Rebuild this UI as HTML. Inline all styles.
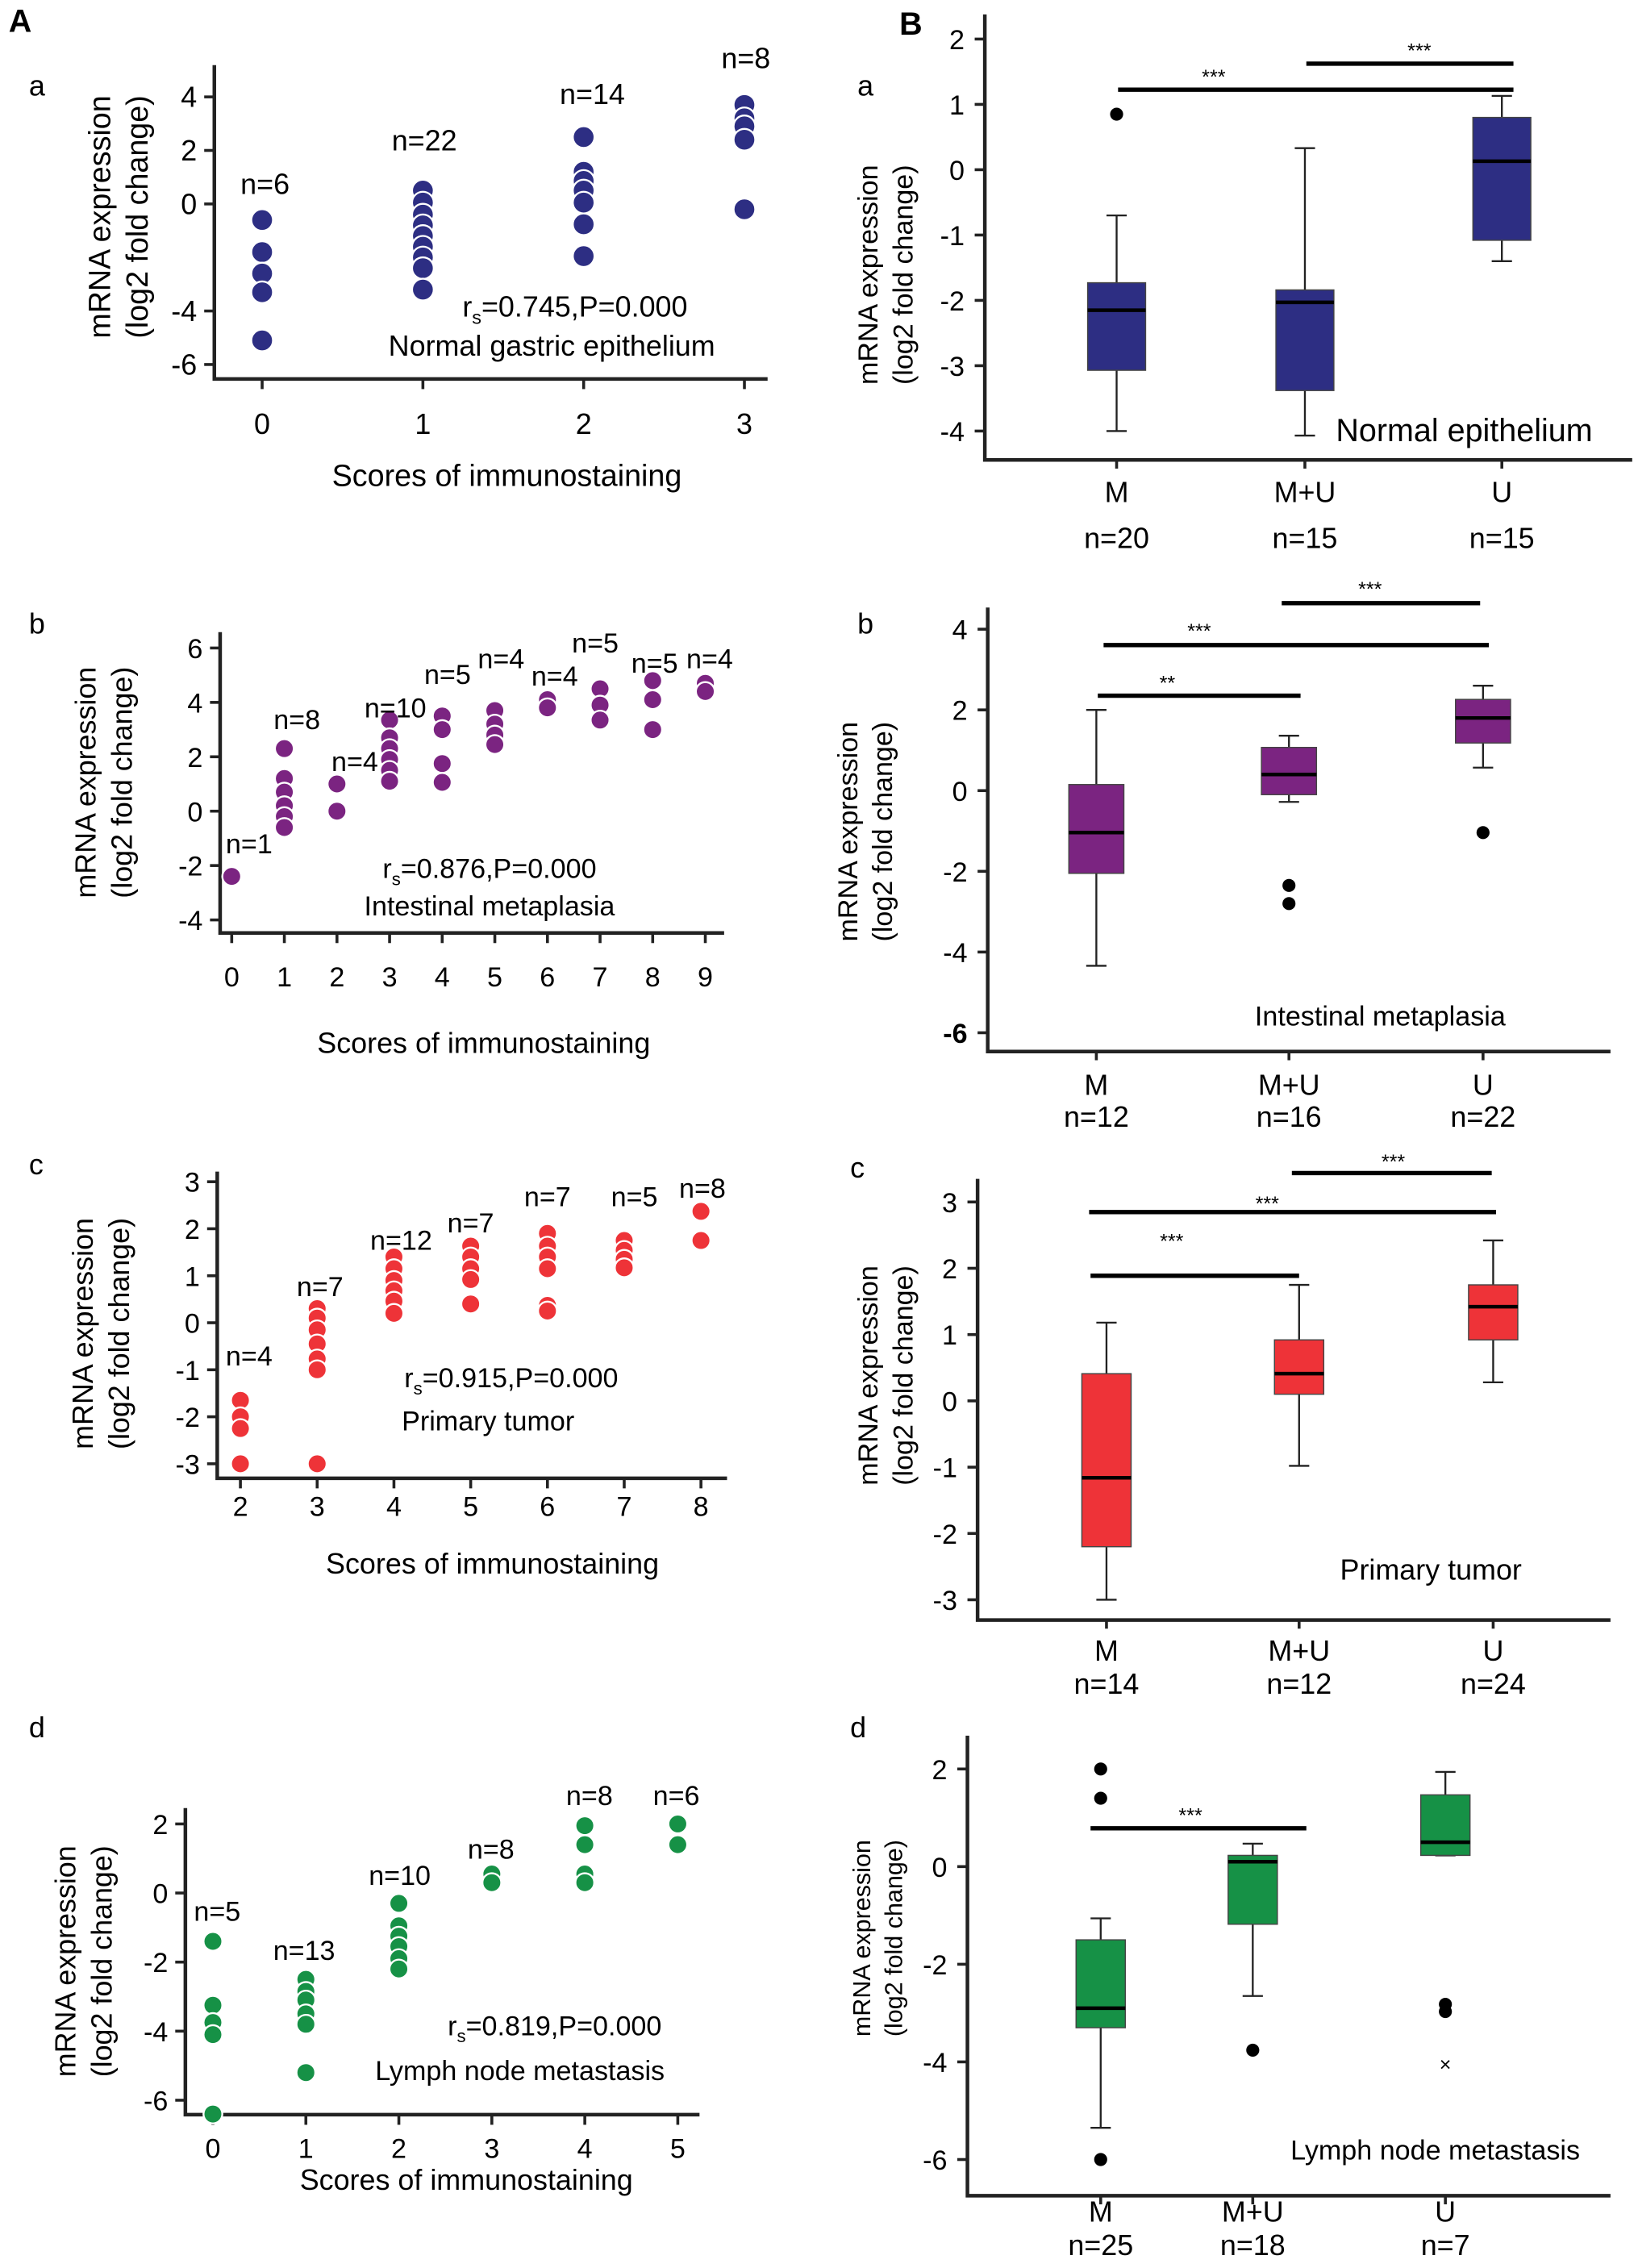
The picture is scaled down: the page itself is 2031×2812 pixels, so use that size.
<!DOCTYPE html>
<html><head><meta charset="utf-8"><title>mRNA expression figure</title>
<style>
html,body{margin:0;padding:0;background:#fff;}
svg{display:block;font-family:"Liberation Sans",Arial,sans-serif;}
</style></head>
<body>
<svg id="fig" xmlns="http://www.w3.org/2000/svg" width="2031" height="2812" viewBox="0 0 1131 1568" preserveAspectRatio="none">
<text x="6" y="22" font-size="22" font-weight="bold">A</text>
<text x="621" y="24" font-size="22" font-weight="bold">B</text>
</svg>
<script>
// ---------- Scatter panel data (A) ----------
const sAaCats=[0,1,2,3];
const sAaVals=[[-0.6,-1.8,-2.6,-3.3,-5.1],[0.5,0.05,-0.4,-0.8,-1.2,-1.6,-2,-2.4,-3.2],[2.5,1.2,0.86,0.5,0.05,-0.76,-1.95],[3.7,3.2,2.9,2.4,-0.2]];
const sAaN=["n=6","n=22","n=14","n=8"];
const sAaTicks=[4,2,0,-4,-6];

const sAbCats=[0,1,2,3,4,5,6,7,8,9];
const sAbVals=[[-2.4],[2.3,1.2,0.7,0.2,-0.2,-0.6],[1,0],[3.35,2.7,2.3,1.9,1.5,1.1],[3.5,3,1.75,1.06],[3.7,3.2,2.8,2.45],[4.1,3.8],[4.5,3.9,3.35],[4.8,4.1,3],[4.7,4.4]];
const sAbN=["n=1","n=8","n=4","n=10","n=5","n=4","n=4","n=5","n=5","n=4"];
const sAbTicks=[6,4,2,0,-2,-4];

const sAcCats=[2,3,4,5,6,7,8];
const sAcVals=[[-1.65,-2,-2.25,-3],[0.3,0.1,-0.15,-0.45,-0.77,-1,-3],[1.4,1.15,0.9,0.68,0.46,0.2],[1.63,1.4,1.15,0.92,0.4],[1.9,1.63,1.4,1.15,0.37,0.25],[1.75,1.54,1.35,1.17],[2.37,1.75]];
const sAcN=["n=4","n=7","n=12","n=7","n=7","n=5","n=8"];
const sAcTicks=[3,2,1,0,-1,-2,-3];

const sAdCats=[0,1,2,3,4,5];
const sAdVals=[[-1.4,-3.25,-3.75,-4.1,-6.4],[-2.5,-2.85,-3.1,-3.5,-3.8,-5.2],[-0.3,-0.95,-1.25,-1.55,-1.9,-2.2],[0.55,0.3],[1.95,1.4,0.55,0.3],[2,1.4]];
const sAdN=["n=5","n=13","n=10","n=8","n=8","n=6"];
const sAdTicks=[2,0,-2,-4,-6];

// ---------- Box panel data (B) ----------
const bGroups=["M","M+U","U"];
const bBaN=["n=20","n=15","n=15"];
const bBaQ1=[-3.07,-3.38,-1.08], bBaQ3=[-1.73,-1.84,0.8], bBaMed=[-2.15,-2.03,0.13], bBaLo=[-4,-4.07,-1.4], bBaHi=[-0.7,0.33,1.13];
const bBaOut=[[0.85],[],[]];
const bBaTicks=[2,1,0,-1,-2,-3,-4];

const bBbN=["n=12","n=16","n=22"];
const bBbQ1=[-2.05,-0.1,1.18], bBbQ3=[0.15,1.07,2.26], bBbMed=[-1.04,0.4,1.8], bBbLo=[-4.34,-0.28,0.57], bBbHi=[2,1.36,2.6];
const bBbOut=[[],[-2.35,-2.8],[-1.04]];
const bBbTicks=[4,2,0,-2,-4,-6];

const bBcN=["n=14","n=12","n=24"];
const bBcQ1=[-2.2,0.1,0.92], bBcQ3=[0.41,0.92,1.75], bBcMed=[-1.16,0.41,1.42], bBcLo=[-3,-0.98,0.28], bBcHi=[1.18,1.75,2.42];
const bBcOut=[[],[],[]];
const bBcTicks=[3,2,1,0,-1,-2,-3];

const bBdN=["n=25","n=18","n=7"];
const bBdQ1=[-3.3,-1.18,0.23], bBdQ3=[-1.5,0.23,1.47], bBdMed=[-2.9,0.1,0.5], bBdLo=[-5.35,-2.65,0.23], bBdHi=[-1.06,0.47,1.94];
const bBdOut=[[2,1.4,-6],[-3.76],[-2.82,-2.97]];
const bBdTicks=[2,0,-2,-4,-6];

const NS="http://www.w3.org/2000/svg";
const svg=document.getElementById('fig');
function mk(tag,attrs,parent){const e=document.createElementNS(NS,tag);for(const k in attrs)e.setAttribute(k,attrs[k]);(parent||svg).appendChild(e);return e;}
function txt(x,y,s,size,anchor,parent,extra){const t=mk('text',Object.assign({x:x,y:y,'font-size':size,'text-anchor':anchor||'middle'},extra||{}),parent);t.textContent=s;return t;}
function linY(v0,y0,v1,y1){return v=>y0+(v-v0)*(y1-y0)/(v1-v0);}
function linX(c0,x0,c1,x1){return c=>x0+(c-c0)*(x1-x0)/(c1-c0);}

function scatter(p){
  const g=mk('g',{});
  
  
  txt(p.letter[0],p.letter[1],p.letterText,20,'start',g);
  const ax=mk('path',{d:`M${p.ax} ${p.top} V${p.bottom} H${p.right}`,stroke:'#222',fill:'none','stroke-width':2.5},g);
  
  
  p.ticks.forEach(v=>{const y=p.y(v);mk('line',{x1:p.ax-7,x2:p.ax,y1:y,y2:y,stroke:'#222','stroke-width':2},g);
    const t=txt(p.ax-12,y+7,String(v),p.fs,'end',g);
    
    });
  p.cats.forEach((c,i)=>{const x=p.x(c);mk('line',{x1:x,x2:x,y1:p.bottom,y2:p.bottom+7,stroke:'#222','stroke-width':2},g);
    const t=txt(x,p.xlabY,String(c),p.fs,'middle',g);
    
    
    p.vals[i].forEach(v=>{const d=mk('circle',{cx:x,cy:p.y(v),r:p.r,fill:p.color,stroke:'#fff','stroke-width':1.3},g);
      
      });
    const n=txt(p.nPos[i][0],p.nPos[i][1],p.n[i],p.fs,'middle',g);
    
    });
  const xt=txt(p.xt[0],p.xt[1],'Scores of immunostaining',p.fs+1,'middle',g);
  
  
  const yt=mk('text',{transform:`translate(${p.yt[0]},${p.yt[1]}) rotate(-90)`,'font-size':p.fs+1,'text-anchor':'middle'},g);
  
  
  const s1=mk('tspan',{x:0,y:0},yt);s1.textContent='mRNA expression';
  const s2=mk('tspan',{x:0,y:p.fs+6},yt);s2.textContent='(log2 fold change)';
  const r=mk('text',{x:p.rs[0],y:p.rs[1],'font-size':p.fs,'text-anchor':'middle'},g);
  
  
  const a=mk('tspan',{},r);a.textContent='r';
  const b=mk('tspan',{'font-size':p.fs*0.65,dy:5},r);b.textContent='s';
  const c=mk('tspan',{dy:-5},r);c.textContent=p.rsText;
  const l=txt(p.lab[0],p.lab[1],p.labText,p.fs,'middle',g);
  
  
}

function boxplot(p){
  const g=mk('g',{});
  
  
  txt(p.letter[0],p.letter[1],p.letterText,20,'start',g);
  const ax=mk('path',{d:`M${p.ax} ${p.top} V${p.bottom} H${p.right}`,stroke:'#222',fill:'none','stroke-width':2.5},g);
  
  
  p.ticks.forEach(v=>{const y=p.y(v);mk('line',{x1:p.ax-7,x2:p.ax,y1:y,y2:y,stroke:'#222','stroke-width':2},g);
    const t=txt(p.ax-14,y+7,String(v),p.fs,'end',g,(p.boldTick===v)?{'font-weight':'bold'}:{});
    
    });
  bGroups.forEach((gname,i)=>{
    const x=p.cx[i],w=p.w;
    mk('line',{x1:x,x2:x,y1:p.y(p.hi[i]),y2:p.y(p.lo[i]),stroke:'#222','stroke-width':1.3},g);
    [p.hi[i],p.lo[i]].forEach(v=>mk('line',{x1:x-7,x2:x+7,y1:p.y(v),y2:p.y(v),stroke:'#222','stroke-width':1.3},g));
    const bx=mk('rect',{x:x-w/2,y:p.y(p.q3[i]),width:w,height:p.y(p.q1[i])-p.y(p.q3[i]),fill:p.color,stroke:'#444','stroke-width':0.8},g);
    
    
    mk('line',{x1:x-w/2,x2:x+w/2,y1:p.y(p.med[i]),y2:p.y(p.med[i]),stroke:'#000','stroke-width':2.5},g);
    p.out[i].forEach(v=>{const o=mk('circle',{cx:x,cy:p.y(v),r:4.5,fill:'#000'},g);
      
      });
    mk('line',{x1:x,x2:x,y1:p.bottom,y2:p.bottom+6,stroke:'#222','stroke-width':2},g);
    const t=txt(x,p.xlab[0],gname,p.fs+1,'middle',g);
    
    
    const n=txt(x,p.xlab[1],p.n[i],p.fs+1,'middle',g);
    
    
  });
  p.sig.forEach(s=>{const l=mk('line',{x1:s[0],x2:s[1],y1:s[2],y2:s[2],stroke:'#000','stroke-width':3},g);
    
    
    txt(s[3],s[4],s[5],14,'middle',g);});
  (p.cross||[]).forEach(c=>txt(c[0],c[1],'×',14,'middle',g));
  const yt=mk('text',{transform:`translate(${p.yt[0]},${p.yt[1]}) rotate(-90)`,'font-size':p.yfs,'text-anchor':'middle'},g);
  
  
  const s1=mk('tspan',{x:0,y:0},yt);s1.textContent='mRNA expression';
  const s2=mk('tspan',{x:0,y:p.yfs+5},yt);s2.textContent='(log2 fold change)';
  const l=txt(p.lab[0],p.lab[1],p.labText,p.labFs,'middle',g);
  
  
}

scatter({name:'scatter-normal-epithelium',letter:[20,66],letterText:'a',ax:148,top:45,bottom:262,right:530,
  y:linY(4,67,-6,252),x:linX(0,181,3,514),ticks:sAaTicks,cats:sAaCats,vals:sAaVals,n:sAaN,
  nPos:[[183,134],[293,104],[409,72],[515,47]],color:'#2d2e83',r:7.5,fs:20,xlabY:300,xt:[350,336],yt:[76,150],
  rs:[397,219],rsText:'=0.745,P=0.000',lab:[381,246],labText:'Normal gastric epithelium'});
scatter({name:'scatter-intestinal-metaplasia',letter:[20,438],letterText:'b',ax:152,top:437,bottom:645,right:500,
  y:linY(6,448,-4,636),x:linX(0,160,9,487),ticks:sAbTicks,cats:sAbCats,vals:sAbVals,n:sAbN,
  nPos:[[172,590],[205,504],[245,533],[273,496],[309,473],[346,462],[383,474],[411,451],[452,465],[490,462]],
  color:'#7b2481',r:6.5,fs:19,xlabY:682,xt:[334,728],yt:[66,541],
  rs:[338,607],rsText:'=0.876,P=0.000',lab:[338,633],labText:'Intestinal metaplasia'});
scatter({name:'scatter-primary-tumor',letter:[20,812],letterText:'c',ax:150,top:810,bottom:1022,right:502,
  y:linY(3,817,-3,1012),x:linX(2,166,8,484),ticks:sAcTicks,cats:sAcCats,vals:sAcVals,n:sAcN,
  nPos:[[172,944],[221,896],[277,864],[325,852],[378,834],[438,834],[485,828]],
  color:'#ee3338',r:6.5,fs:19,xlabY:1048,xt:[340,1088],yt:[64,922],
  rs:[353,959],rsText:'=0.915,P=0.000',lab:[337,989],labText:'Primary tumor'});
scatter({name:'scatter-lymph-node-metastasis',letter:[20,1201],letterText:'d',ax:128,top:1250,bottom:1462,right:483,
  y:linY(2,1261,-6,1452),x:linX(0,147,5,468),ticks:sAdTicks,cats:sAdCats,vals:sAdVals,n:sAdN,
  nPos:[[150,1328],[210,1355],[276,1303],[339,1285],[407,1248],[467,1248]],
  color:'#169146',r:6.5,fs:19,xlabY:1492,xt:[322,1514],yt:[52,1356],
  rs:[383,1407],rsText:'=0.819,P=0.000',lab:[359,1438],labText:'Lymph node metastasis'});

boxplot({name:'box-normal-epithelium',letter:[592,66],letterText:'a',ax:680,top:10,bottom:318,right:1127,
  y:linY(2,27,-4,298),ticks:bBaTicks,cx:[771,901,1037],w:40,color:'#2d2e83',
  q1:bBaQ1,q3:bBaQ3,med:bBaMed,lo:bBaLo,hi:bBaHi,out:bBaOut,n:bBaN,fs:19,xlab:[347,379],
  sig:[[772,1045,62,838,58,'***'],[902,1045,44,980,40,'***']],yt:[606,190],yfs:19,
  lab:[1011,305],labText:'Normal epithelium',labFs:22});
boxplot({name:'box-intestinal-metaplasia',letter:[592,438],letterText:'b',ax:682,top:420,bottom:727,right:1112,
  y:linY(4,435,-6,714),ticks:bBbTicks,boldTick:-6,cx:[757,890,1024],w:38,color:'#7b2481',
  q1:bBbQ1,q3:bBbQ3,med:bBbMed,lo:bBbLo,hi:bBbHi,out:bBbOut,n:bBbN,fs:19,xlab:[757,779],
  sig:[[758,898,481,806,477,'**'],[762,1028,446,828,441,'***'],[885,1022,417,946,412,'***']],yt:[592,575],yfs:19,
  lab:[953,709],labText:'Intestinal  metaplasia',labFs:19});
boxplot({name:'box-primary-tumor',letter:[587,814],letterText:'c',ax:675,top:815,bottom:1120,right:1112,
  y:linY(3,831,-3,1106),ticks:bBcTicks,cx:[764,897,1031],w:34,color:'#ee3338',
  q1:bBcQ1,q3:bBcQ3,med:bBcMed,lo:bBcLo,hi:bBcHi,out:bBcOut,n:bBcN,fs:19,xlab:[1148,1171],
  sig:[[753,897,882,809,863,'***'],[752,1033,838,875,837,'***'],[892,1030,811,962,808,'***']],yt:[606,951],yfs:19,
  lab:[988,1092],labText:'Primary  tumor',labFs:20});
boxplot({name:'box-lymph-node-metastasis',letter:[587,1201],letterText:'d',ax:668,top:1200,bottom:1518,right:1112,
  y:linY(2,1223,-6,1493),ticks:bBdTicks,cx:[760,865,998],w:34,color:'#169146',
  q1:bBdQ1,q3:bBdQ3,med:bBdMed,lo:bBdLo,hi:bBdHi,out:bBdOut,n:bBdN,fs:19,xlab:[1536,1559],
  sig:[[753,902,1264,822,1260,'***']],cross:[[998,1432]],yt:[601,1340],yfs:17,
  lab:[991,1493],labText:'Lymph node metastasis',labFs:19});
</script>
</body></html>
